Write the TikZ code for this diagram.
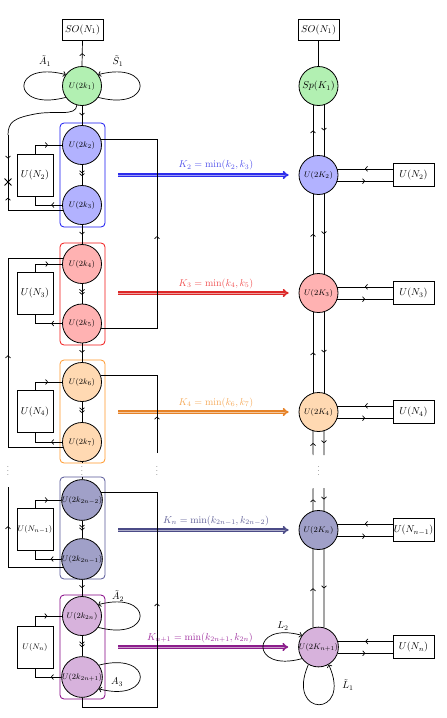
\documentclass[tikz,border=0pt]{standalone}
\usetikzlibrary{arrows.meta,decorations.markings,shapes.misc,calc}
\definecolor{cgreen}{RGB}{178,240,178}
\definecolor{cblue}{RGB}{178,178,255}
\definecolor{cred}{RGB}{255,178,178}
\definecolor{corange}{RGB}{255,217,178}
\definecolor{cdark}{RGB}{160,160,200}
\definecolor{cpurple}{RGB}{215,178,220}
\definecolor{bblue}{RGB}{20,20,240}
\definecolor{bred}{RGB}{240,20,20}
\definecolor{borange}{RGB}{255,150,40}
\definecolor{bdark}{RGB}{85,85,150}
\definecolor{bpurple}{RGB}{130,0,130}
\definecolor{ablue}{RGB}{45,45,235}
\definecolor{ared}{RGB}{220,40,40}
\definecolor{aorange}{RGB}{230,130,40}
\definecolor{adark}{RGB}{75,75,135}
\definecolor{apurple}{RGB}{140,30,140}
\definecolor{lblue}{RGB}{80,80,235}
\definecolor{lred}{RGB}{240,80,80}
\definecolor{lorange}{RGB}{245,170,90}
\definecolor{ldark}{RGB}{95,95,150}
\definecolor{lpurple}{RGB}{160,50,160}
\tikzset{
  gn/.style={circle, draw, line width=0.8pt, minimum size=39pt, inner sep=0pt, font=\footnotesize},
  bx/.style={draw, line width=0.8pt, inner sep=0pt, minimum width=36pt, minimum height=42pt},
  rbx/.style={draw, line width=0.8pt, inner sep=0pt, minimum width=41pt, minimum height=23pt},
  ln/.style={line width=0.7pt},
  ma/.style={postaction={decorate}, decoration={markings, mark=at position #1 with {\arrow{To[length=2.8pt,width=5.5pt]}}}},
  ma/.default=0.5,
  mda/.style={postaction={decorate}, decoration={markings, mark=at position #1 with {\arrow{To[length=2.8pt,width=5.5pt]To[length=2.8pt,width=5.5pt]}}}},
  mda/.default=0.55,
  ea/.style={-{To[length=2.8pt,width=5.5pt]}},
  blk/.style={rounded corners=4pt, line width=0.8pt},
  karr/.style={draw=#1, line width=1.6pt, double=#1!45, double distance=0.9pt, -{Implies}},
  dts/.style={font=\scriptsize, inner sep=0pt},
}
\begin{document}
\begin{tikzpicture}[x=1pt,y=-1pt]
\useasboundingbox (0,0) rectangle (447,718);

% blocks
\draw[blk, draw=bblue] (60,123) rectangle (105,227);
\draw[blk, draw=bred] (60,243) rectangle (105,345);
\draw[blk, draw=borange] (60,360) rectangle (105,463);
\draw[blk, draw=bdark] (60,477) rectangle (105,579);
\draw[blk, draw=bpurple] (60,595) rectangle (105,699);

% left nodes
\node[draw, line width=0.8pt, inner sep=0pt, minimum width=41pt, minimum height=21pt] (SO1) at (82.5,29.5) {$SO(N_1)$};
\node[gn, fill=cgreen] (k1) at (82,86) {$U(2k_1)$};
\node[gn, fill=cblue] (k2) at (82,145) {$U(2k_2)$};
\node[gn, fill=cblue] (k3) at (82,205) {$U(2k_3)$};
\node[gn, fill=cred] (k4) at (82,264) {$U(2k_4)$};
\node[gn, fill=cred] (k5) at (82,323.5) {$U(2k_5)$};
\node[gn, fill=corange] (k6) at (82,382) {$U(2k_6)$};
\node[gn, fill=corange] (k7) at (82,442) {$U(2k_7)$};
\node[gn, fill=cdark] (k8) at (82,500) {$U(2k_{2n-2})$};
\node[gn, fill=cdark] (k9) at (82,559) {$U(2k_{2n-1})$};
\node[gn, fill=cpurple] (k10) at (82,616) {$U(2k_{2n})$};
\node[gn, fill=cpurple] (k11) at (82,677) {$U(2k_{2n+1})$};

\node[bx] (NL2) at (35,175) {$U(N_2)$};
\node[bx] (NL3) at (35,293) {$U(N_3)$};
\node[bx] (NL4) at (35,411.5) {$U(N_4)$};
\node[bx, font=\footnotesize] (NL5) at (35,529) {$U(N_{n-1})$};
\node[bx, font=\footnotesize] (NL6) at (35,647.5) {$U(N_n)$};

% right nodes
\node[draw, line width=0.8pt, inner sep=0pt, minimum width=41pt, minimum height=21pt] (SOR) at (318.5,29.5) {$SO(N_1)$};
\node[gn, fill=cgreen, font=\normalsize] (Sp) at (318.5,86) {$Sp(K_1)$};
\node[gn, fill=cblue] (K2) at (318.5,175) {$U(2K_2)$};
\node[gn, fill=cred] (K3) at (318.5,293) {$U(2K_3)$};
\node[gn, fill=corange] (K4) at (318.5,412) {$U(2K_4)$};
\node[gn, fill=cdark] (Kn) at (318.5,530) {$U(2K_n)$};
\node[gn, fill=cpurple] (Kn1) at (318.5,647) {$U(2K_{n+1})$};

\node[rbx] (NR2) at (413.5,175) {$U(N_2)$};
\node[rbx] (NR3) at (413.5,293) {$U(N_3)$};
\node[rbx] (NR4) at (413.5,412) {$U(N_4)$};
\node[rbx] (NR5) at (413.5,530) {$U(N_{n-1})$};
\node[rbx] (NR6) at (413.5,647) {$U(N_n)$};

% dots
\node[dts] (d1) at (8,468) {$\vdots$};
\node[dts] (d2) at (82,468) {$\vdots$};
\node[dts] (d3) at (157,468) {$\vdots$};
\node[dts] (d4) at (318.5,468) {$\vdots$};

% coloured arrows
\coordinate (a2) at (118,175);
\coordinate (a3) at (118,293);
\coordinate (a4) at (118,412);
\coordinate (a5) at (118,530);
\coordinate (a6) at (118,647);
\draw[karr=ablue] (a2) -- ($(K2.west)+(-10,0)$);
\draw[karr=ared] (a3) -- ($(K3.west)+(-10,0)$);
\draw[karr=aorange] (a4) -- ($(K4.west)+(-10,0)$);
\draw[karr=adark] (a5) -- ($(Kn.west)+(-10,0)$);
\draw[karr=apurple] (a6) -- ($(Kn1.west)+(-10,0)$);
\node[text=lblue] (t2) at (216,165) {$K_2 = \min(k_2, k_3)$};
\node[text=lred] (t3) at (216,283.5) {$K_3 = \min(k_4, k_5)$};
\node[text=lorange] (t4) at (216,402.5) {$K_4 = \min(k_6, k_7)$};
\node[text=ldark] (t5) at (216,520.5) {$K_n = \min(k_{2n-1}, k_{2n-2})$};
\node[text=lpurple] (t6) at (200,637.5) {$K_{n+1} = \min(k_{2n+1}, k_{2n})$};

% left column chain
\draw[ln, ma] (k1.north) -- (SO1.south);
\draw[ln] (Sp.north) -- (SOR.south);
\draw[ln, ma] (k1.south) -- (k2.north);
\draw[ln, mda] (k2.south) -- (k3.north);
\draw[ln, ma] (k3.south) -- (k4.north);
\draw[ln, mda] (k4.south) -- (k5.north);
\draw[ln, ma] (k5.south) -- (k6.north);
\draw[ln, mda] (k6.south) -- (k7.north);
\coordinate (st1) at (82,463);
\coordinate (st2) at (82,477);
\draw[ln] (k7.south) -- (st1);
\draw[ln] (st2) -- (k8.north);
\draw[ln, mda] (k8.south) -- (k9.north);
\draw[ln, ma] (k9.south) -- (k10.north);
\draw[ln, mda] (k10.south) -- (k11.north);

% flavour boxes left
\draw[ln, ma=0.6] (NL2.north) |- (k2.west);
\draw[ln, ma=0.3] (k3.west) -| (NL2.south);
\draw[ln, ma=0.6] (NL3.north) |- (k4.west);
\draw[ln, ma=0.3] (k5.west) -| (NL3.south);
\draw[ln, ma=0.6] (NL4.north) |- (k6.west);
\draw[ln, ma=0.3] (k7.west) -| (NL4.south);
\draw[ln, ma=0.6] (NL5.north) |- (k8.west);
\draw[ln, ma=0.3] (k9.west) -| (NL5.south);
\draw[ln, ma=0.6] (NL6.north) |- (k10.west);
\draw[ln, ma=0.3] (k11.west) -| (NL6.south);

% loops left
\draw[ln, ea] (k1.215) .. controls (10,112) and (10,60) .. (k1.145);
\draw[ln, ea] (k1.-35) .. controls (154,112) and (154,60) .. (k1.35);
\node (lA1) at (45,61) {$\tilde{A}_1$};
\node (lS1) at (118,61) {$\tilde{S}_1$};
\draw[ln, ea] (k10.-35) .. controls (154,642) and (154,590) .. (k10.35);
\node (lA2) at (118,596) {$\tilde{A}_2$};
\draw[ln, ea] (k11.35) .. controls (154,651) and (154,703) .. (k11.-35);
\node (lA3) at (117,682) {$A_3$};

% snake curve with cross
\coordinate (sn) at (8,135);
\node[cross out, draw, line width=0.9pt, minimum size=6pt, inner sep=0pt] (X) at (8,182) {};
\draw[ln] (k1.255) .. controls (76,117) and (55,110) .. (35,114) .. controls (14,118) and (8,122) .. (sn);
\draw[ln, ma] (sn) -- (X.center);
\draw[ln, ma=0.81] (k3.195) -| (X.center);

% long connectors
\coordinate (xr) at (157,0);
\coordinate (xl) at (8,0);
\draw[ln, ma=0.49] (k5.-13) -| (xr |- k2.18) -- (k2.18);
\draw[ln, ma=0.49] (k7.195) -| (xl |- k4.162) -- (k4.162);
\coordinate (e6) at (157,453);
\draw[ln, ma=0.27] (e6) -- (xr |- k6.21) -- (k6.21);
\coordinate (e8) at (8,487);
\draw[ln, ma=0.71] (k9.204) -| (e8);
\coordinate (bt) at (0,707);
\draw[ln, ma=0.53] (k11.south) -- (k11.south |- bt) -| (xr |- k8.21) -- (k8.21);

% right column verticals
\draw[ln, ma] (K2.106) -- (Sp.254);
\draw[ln, ma] (Sp.286) -- (K2.74);
\draw[ln, ma] (K3.106) -- (K2.254);
\draw[ln, ma] (K2.286) -- (K3.74);
\draw[ln, ma] (K4.106) -- (K3.254);
\draw[ln, ma] (K3.286) -- (K4.74);
\coordinate (r1) at (313.1,455);
\coordinate (r2) at (323.9,455);
\coordinate (r3) at (313.1,488);
\coordinate (r4) at (323.9,488);
\draw[ln, ma] (r1) -- (K4.254);
\draw[ln, ma] (K4.286) -- (r2);
\draw[ln, ma] (Kn.106) -- (r3);
\draw[ln, ma] (r4) -- (Kn.74);
\draw[ln, ma] (Kn1.106) -- (Kn.254);
\draw[ln, ma] (Kn.286) -- (Kn1.74);

% right horizontals
\draw[ln, ma] (K2.18 -| NR2.west) -- (K2.18);
\draw[ln, ma] (K2.-18) -- (K2.-18 -| NR2.west);
\draw[ln, ma] (K3.18 -| NR3.west) -- (K3.18);
\draw[ln, ma] (K3.-18) -- (K3.-18 -| NR3.west);
\draw[ln, ma] (K4.18 -| NR4.west) -- (K4.18);
\draw[ln, ma] (K4.-18) -- (K4.-18 -| NR4.west);
\draw[ln, ma] (Kn.18 -| NR5.west) -- (Kn.18);
\draw[ln, ma] (Kn.-18) -- (Kn.-18 -| NR5.west);
\draw[ln, ma] (Kn1.16 -| NR6.west) -- (Kn1.16);
\draw[ln, ma] (Kn1.-18) -- (Kn1.-18 -| NR6.west);

% loops right
\draw[ln, ea] (Kn1.215) .. controls (250,673) and (250,621) .. (Kn1.145);
\node (lL2) at (283,626) {$L_2$};
\draw[ln, ea] (Kn1.240) .. controls (285,718) and (353,718) .. (Kn1.300);
\node (lL1) at (348,685) {$\tilde{L}_1$};
\end{tikzpicture}
\end{document}
